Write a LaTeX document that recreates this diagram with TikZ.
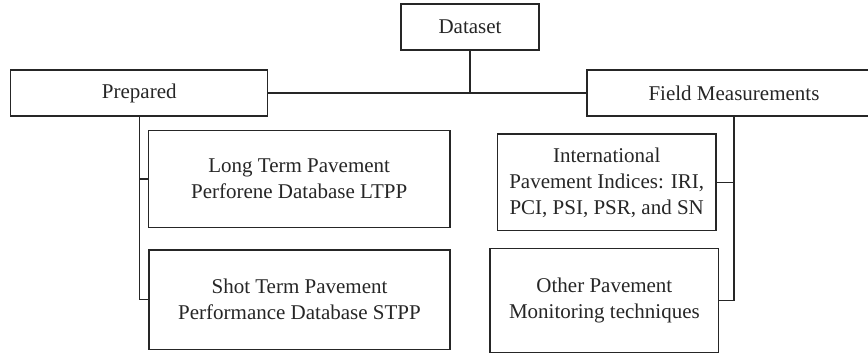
\documentclass[tikz,border=0pt]{standalone}
\usepackage{fontspec}
\setmainfont{Liberation Serif}
\begin{document}
\begin{tikzpicture}[x=1pt,y=-1pt,
  box/.style={draw=black!85, line width=1.3pt, inner sep=0pt, align=center,
    font=\fontsize{21}{26}\selectfont, text=black!85},
  link/.style={draw=black!85, line width=1.3pt}]
\useasboundingbox (0,0) rectangle (868,355);
\node[box, minimum width=138pt, minimum height=46pt] (ds) at (470,27) {Dataset};
\node[box, minimum width=257pt, minimum height=46pt] (prep) at (139.3,93) {Prepared};
\node[box, minimum width=294pt, minimum height=46pt] (fm) at (734,93) {Field Measurements};
\node[box, minimum width=301.7pt, minimum height=96.6pt] (long) at (299.2,179) {Long Term Pavement\\Perforene Database LTPP};
\node[box, minimum width=301pt, minimum height=99.3pt] (short) at (299.5,299.7) {Shot Term Pavement\\Performance Database STPP};
\node[box, minimum width=218.7pt, minimum height=96.7pt] (intl) at (606.7,182.4) {International\\Pavement Indices: IRI,\\PCI, PSI, PSR, and SN};
\node[box, minimum width=228.7pt, minimum height=104pt] (other) at (604.4,300.3) {Other Pavement\\Monitoring techniques};
\draw[link] (ds.south) -- (ds.south |- prep.east);
\draw[link] (prep.east) -- (fm.west);
\draw[link] (prep.south) |- (short.west);
\draw[link] (prep.south |- long.west) -- (long.west);
\draw[link] (fm.south) |- (other.east);
\draw[link] (fm.south |- intl.east) -- (intl.east);
\end{tikzpicture}
\end{document}
